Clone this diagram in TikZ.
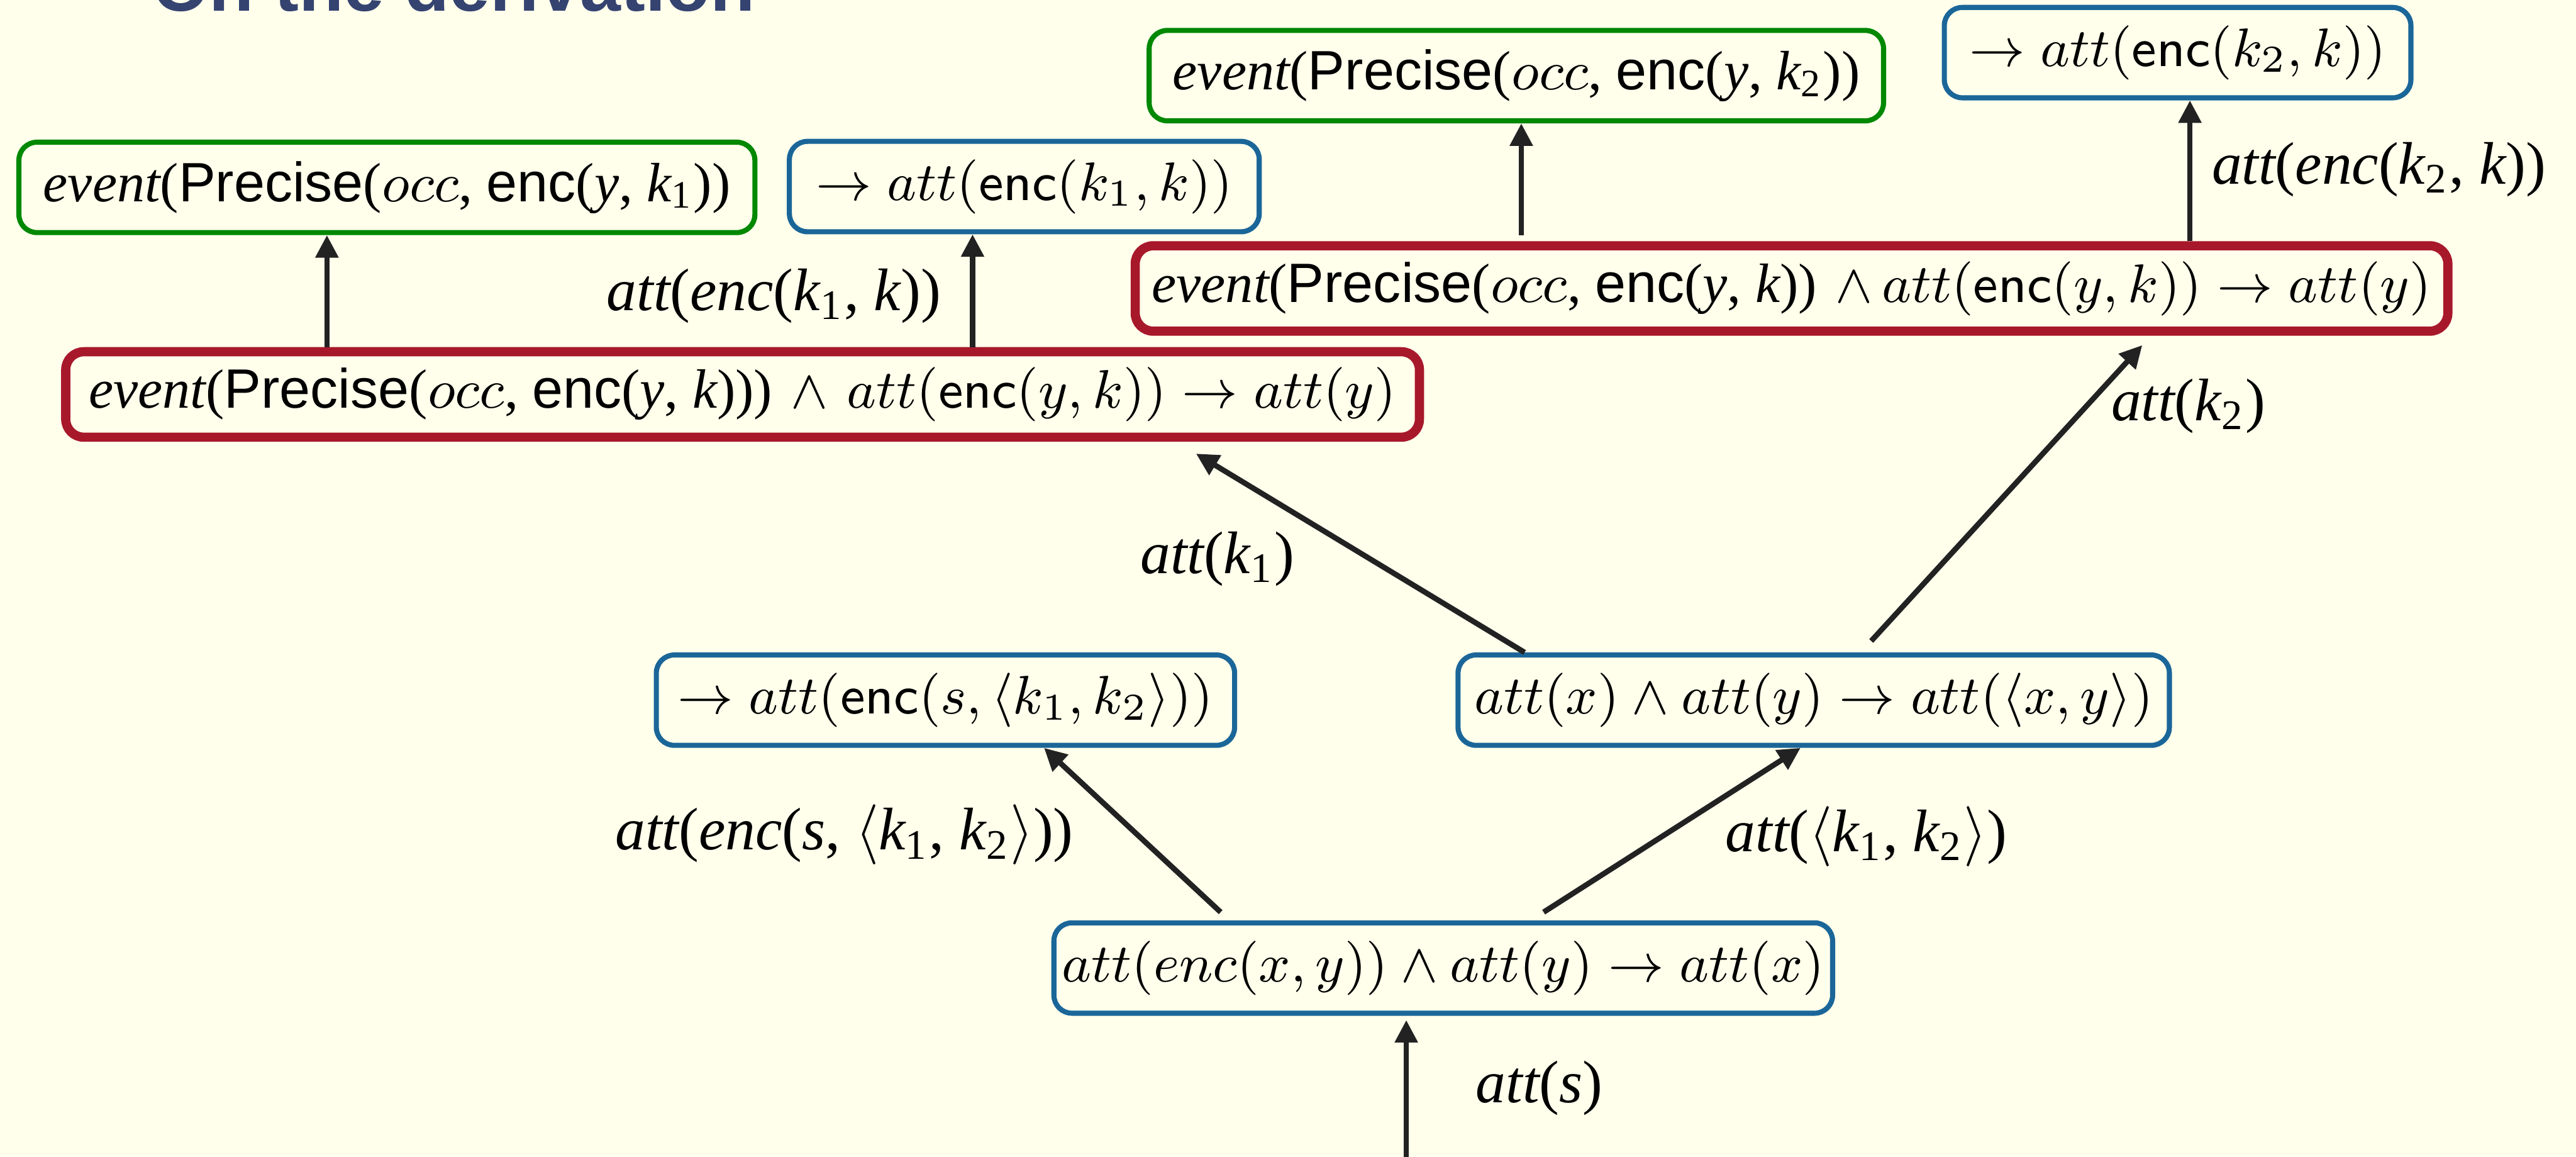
\RequirePackage{fix-cm}
\documentclass[tikz,border=0pt]{standalone}
\usepackage{fontspec}
\newfontfamily\tmsf{Liberation Serif}
\newfontfamily\hvf{Liberation Sans}
\usetikzlibrary{arrows.meta,calc}

\definecolor{pagebg}{RGB}{255,255,236}
\definecolor{titleblue}{RGB}{53,67,112}
\definecolor{boxgreen}{RGB}{0,136,0}
\definecolor{boxblue}{RGB}{27,102,153}
\definecolor{boxred}{RGB}{168,24,43}
\definecolor{arrowgray}{RGB}{34,34,34}

% Times upright / italic, Helvetica-like sans
\newcommand\tr[1]{{\tmsf\upshape #1}}
\newcommand\ti[1]{{\tmsf\itshape #1}}
\newcommand\hs[1]{{\hvf\upshape #1}}
\newcommand\evsz{\fontsize{9.6}{11.5}\selectfont}

\begin{document}
\begin{tikzpicture}[x=0.1mm,y=-0.1mm,
  box/.style={rounded corners=1.1mm, fill=pagebg, inner sep=0pt,
    minimum height=5.5mm, align=center, font=\fontsize{9.4}{11}\selectfont},
  gbox/.style={box, draw=boxgreen, line width=0.31mm},
  bbox/.style={box, draw=boxblue, line width=0.31mm},
  rbox/.style={box, draw=boxred, line width=0.56mm, minimum height=5.2mm},
  lbl/.style={inner sep=0pt, font=\fontsize{10.4}{12}\selectfont\tmsf\itshape},
  arr/.style={draw=arrowgray, line width=0.33mm,
    -{Triangle[length=1.37mm,width=1.34mm]}}]

\useasboundingbox (0,0) rectangle (1568,703.77);
\fill[pagebg] (0,0) rectangle (1568,703.77);

% frame title, mostly above the visible area
\node[anchor=base west, inner sep=0pt, text=titleblue,
  font=\hvf\bfseries\fontsize{12.7}{15}\selectfont] (title) at (92,6.8) {On the derivation};

% top rows
\node[gbox, minimum width=44.8mm] (g1) at (235.5,114)
  {{\evsz\ti{event}\tr{(}\hs{Precise}\tr{(}$occ$\tr{, }\hs{enc}\tr{(}\ti{y}\tr{, }\ti{k}\tr{\textsubscript{1}))}}};
\node[bbox, minimum width=28.6mm] (b1) at (623.5,113.5)
  {$\rightarrow att(\mathsf{enc}(k_1,k))$};
\node[rbox, minimum width=82.4mm] (r1) at (452,240)
  {{\evsz\ti{event}\tr{(}\hs{Precise}\tr{(}$occ$\tr{, }\hs{enc}\tr{(}\ti{y}\tr{, }\ti{k}\tr{)))}} $\wedge$ $att(\mathsf{enc}(y,k))\rightarrow att(y)$};

\node[gbox, minimum width=44.7mm] (g2) at (923,46)
  {{\evsz\ti{event}\tr{(}\hs{Precise}\tr{(}$occ$\tr{, }\hs{enc}\tr{(}\ti{y}\tr{, }\ti{k}\tr{\textsubscript{2}))}}};
\node[bbox, minimum width=28.4mm] (b2) at (1325.5,32)
  {$\rightarrow att(\mathsf{enc}(k_2,k))$};
\node[rbox, minimum width=79.9mm] (r2) at (1090.5,175.5)
  {{\evsz\ti{event}\tr{(}\hs{Precise}\tr{(}$occ$\tr{, }\hs{enc}\tr{(}\ti{y}\tr{, }\ti{k}\tr{))}} $\wedge\,att(\mathsf{enc}(y,k))\rightarrow att(y)$};

% middle and bottom rules
\node[bbox, minimum width=35.2mm] (b3) at (575.5,426)
  {$\rightarrow att(\mathsf{enc}(s,\langle k_1,k_2\rangle))$};
\node[bbox, minimum width=43.3mm] (b4) at (1104,426)
  {$att(x)\wedge att(y)\rightarrow att(\langle x,y\rangle)$};
\node[bbox, minimum width=47.4mm] (b5) at (878.5,589)
  {$att(enc(x,y))\wedge att(y)\rightarrow att(x)$};

% edge labels
\node[lbl] (l1) at (471,180) {att\tr{(}enc\tr{(}k\tr{\textsubscript{1}, }k\tr{))}};
\node[lbl] (l2) at (1448,103) {att\tr{(}enc\tr{(}k\tr{\textsubscript{2}, }k\tr{))}};
\node[lbl] (l3) at (1332,247) {att\tr{(}k\tr{\textsubscript{2})}};
\node[lbl] (l4) at (741,340) {att\tr{(}k\tr{\textsubscript{1})}};
\node[lbl] (l5) at (514,508) {att\tr{(}enc\tr{(}s\tr{, }$\langle$k\tr{\textsubscript{1}, }k\tr{\textsubscript{2}}$\rangle$\tr{))}};
\node[lbl] (l6) at (1136,509) {att\tr{(}$\langle$k\tr{\textsubscript{1}, }k\tr{\textsubscript{2}}$\rangle$\tr{)}};
\node[lbl] (l7) at (937,662) {att\tr{(}s\tr{)}};

% connector positions
\coordinate (xa) at (199,0);
\coordinate (xb) at (592,0);
\coordinate (xc) at (926,0);
\coordinate (xd) at (1333,0);
\coordinate (xe) at (928,0);
\coordinate (xf) at (635.5,0);
\coordinate (xg) at (1096,0);
\coordinate (t1) at (728,276);
\coordinate (s2) at (1139,390);
\coordinate (t2) at (1304,210);
\coordinate (s3) at (743,555);
\coordinate (s4) at (939.6,555);
\coordinate (in) at (856,704);

% connectors
\draw[arr] (r1.north -| xa) -- (g1.south -| xa);
\draw[arr] (r1.north -| xb) -- (b1.south -| xb);
\draw[arr, shorten <=0.35mm] (r2.north -| xc) -- (g2.south -| xc);
\draw[arr] (r2.north -| xd) -- (b2.south -| xd);
\draw[arr] (b4.north -| xe) -- (t1);
\draw[arr] (s2) -- (t2);
\draw[arr] (s3) -- (b3.south -| xf);
\draw[arr] (s4) -- (b4.south -| xg);
\draw[arr, shorten >=0.26mm] (in) -- (b5.south -| in);
\end{tikzpicture}
\end{document}
